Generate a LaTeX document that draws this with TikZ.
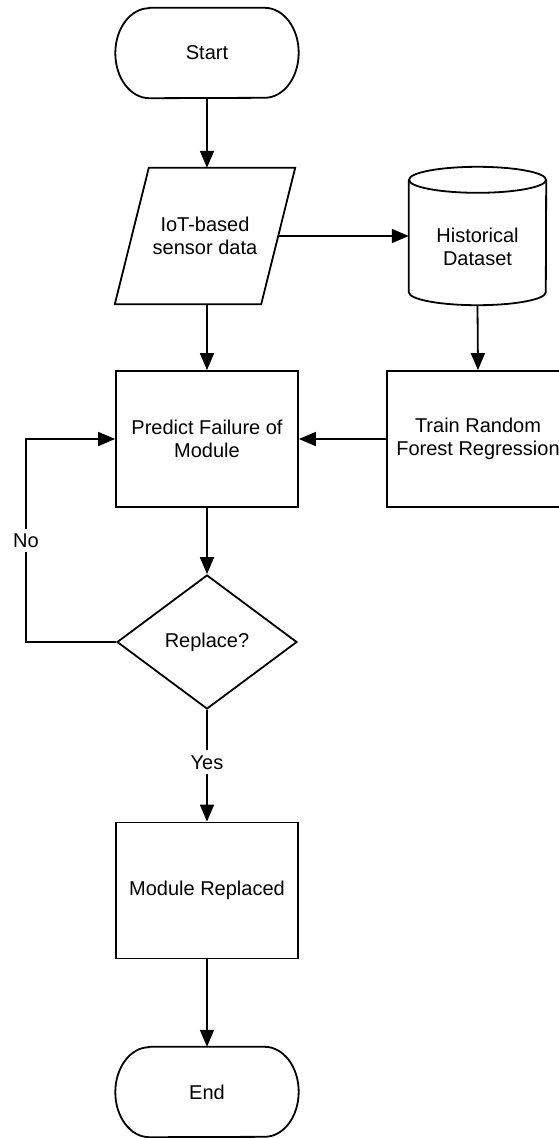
\documentclass[tikz,border=0pt]{standalone}
\usepackage{fontspec}
\setmainfont{Liberation Sans}
\usetikzlibrary{arrows.meta,shapes.geometric,calc}
\begin{document}
\begin{tikzpicture}[x=1pt,y=-1pt,
  every node/.style={font=\fontsize{20}{23}\selectfont, align=center, inner sep=0pt},
  box/.style={draw, line width=1.8pt, minimum width=182pt, minimum height=136pt},
  termarea/.style={minimum width=183pt, minimum height=90pt},
  flow/.style={line width=1.8pt, line join=miter, -{Triangle[length=17pt,width=14pt]}},
  edge/.style={line width=1.8pt, line join=miter},
  lbl/.style={fill=white, inner xsep=2pt, inner ysep=5pt}
]
\useasboundingbox (0,0) rectangle (558,1138);

% capsule outline with elliptical ends around a terminal node
\newcommand{\capsule}[1]{%
  \draw[edge] ($(#1.north west)+(34,0)$) -- ($(#1.north east)-(34,0)$)
    arc[start angle=90, end angle=-90, x radius=34pt, y radius=45pt]
    -- ($(#1.south west)+(34,0)$)
    arc[start angle=270, end angle=90, x radius=34pt, y radius=45pt] -- cycle;}

% start terminal
\node[termarea] (start) at (207,53) {Start};
\capsule{start}

% input/output parallelogram
\node[minimum width=180pt, minimum height=136pt] (io) at (205,236) {IoT-based\\sensor data};
\draw[edge] ($(io.north west)+(34,0)$) -- (io.north east)
  -- ($(io.south east)-(34,0)$) -- (io.south west) -- cycle;
\coordinate (io-r) at ($(io.east)-(17,0)$);

% database cylinder
\node[minimum width=137pt, minimum height=138pt] (hist) at (477.5,236) {};
\draw[edge] ($(hist.north)+(0,13)$) ellipse[x radius=68.5pt, y radius=13pt];
\draw[edge] ($(hist.north west)+(0,13)$) -- ($(hist.south west)-(0,13)$)
  arc[start angle=180, end angle=360, x radius=68.5pt, y radius=13pt]
  -- ($(hist.north east)+(0,13)$);
\node (hist-txt) at ($(hist.center)+(0,11)$) {Historical\\Dataset};

% process steps and decision
\node[box] (train) at (478,439) {Train Random\\Forest Regression};
\node[box] (predict) at (207,439) {Predict Failure of\\Module};
\node[draw, diamond, line width=1.8pt, minimum width=180pt, minimum height=134pt] (decide) at (207,642) {Replace?};
\node[box] (repl) at (207,890.5) {Module Replaced};

% end terminal
\node[termarea] (stop) at (207,1092) {End};
\capsule{stop}

% connectors
\coordinate (nox) at (26,0);
\draw[flow] (start.south) -- (start.south |- io.north);
\draw[flow] (io-r) -- (io-r -| hist.west);
\draw[flow] (hist.south) -- (train.north);
\draw[flow] (predict.north |- io.south) -- (predict.north);
\draw[flow] (train.west) -- (predict.east);
\draw[flow] (predict.south) -- (decide.north);
\draw[flow] (decide.west) -- (decide.west -| nox)
  -- node[lbl, pos=0.5] (no-lbl) {No} (nox |- predict.west) -- (predict.west);
\draw[flow] (decide.south) -- node[lbl, pos=0.47] (yes-lbl) {Yes} (repl.north);
\draw[flow] (repl.south) -- (stop.north);
\end{tikzpicture}
\end{document}
